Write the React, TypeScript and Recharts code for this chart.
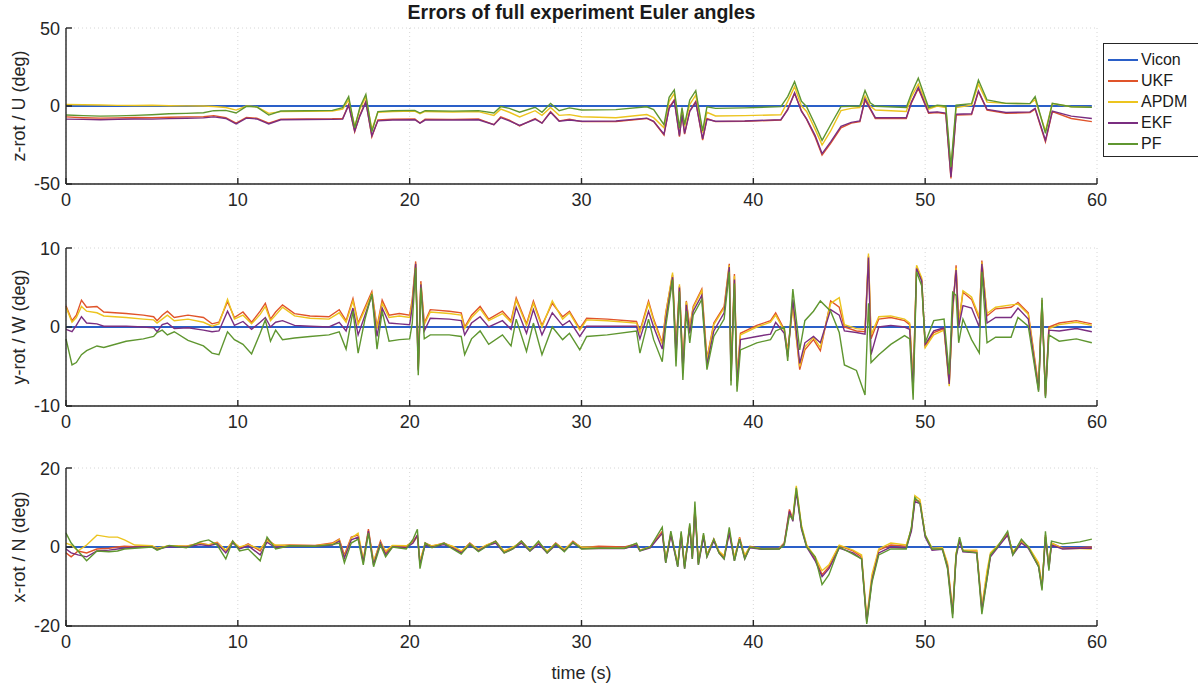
import { LineChart, Line, XAxis, YAxis, CartesianGrid } from 'recharts';

const FONT = '"Liberation Sans", Arial, Helvetica, sans-serif';
const INK = '#262626';

const TIME_TICKS = [0, 10, 20, 30, 40, 50, 60];

// Vicon is the reference, so its error is zero over the whole run
const VICON = [{ t: 0, v: 0 }, { t: 59.7, v: 0 }];

const SERIES = [
  { key: 'ukf', name: 'UKF', color: '#e0542a' },
  { key: 'apdm', name: 'APDM', color: '#ecc41e' },
  { key: 'ekf', name: 'EKF', color: '#7a2e80' },
  { key: 'pf', name: 'PF', color: '#5f9630' },
];

// ---- z-rot / U ----
const T_Z = [0, 1, 2, 3, 4, 5, 6, 7, 8, 8.6, 9.3, 9.9, 10.5, 11.1, 11.8, 12.5, 14, 15.5, 16.1, 16.45, 16.8, 17.1, 17.45, 17.8, 18.15, 19, 20.3, 20.6, 20.9, 22.5, 24, 24.9, 25.3, 25.8, 26.4, 27.3, 27.7, 28.2, 28.7, 29.3, 30, 32, 33.8, 34.2, 34.8, 35.1, 35.4, 35.7, 35.85, 36, 36.3, 36.65, 37.05, 37.3, 37.8, 39.5, 41.6, 42, 42.4, 42.8, 43.1, 43.6, 44, 44.5, 45.1, 45.7, 46.2, 46.5, 46.8, 47.1, 48.9, 49.2, 49.6, 50.2, 50.7, 51.2, 51.5, 51.8, 52.7, 53.1, 53.6, 54.7, 56.1, 56.4, 57, 57.4, 58.5, 59.7];
const UKF_Z = [-7, -7.5, -7.8, -7.6, -7.4, -7.5, -7.2, -7, -6.9, -6.2, -7.5, -11, -7.3, -7.8, -11, -8.4, -8.3, -8.2, -8, 1, -16.5, -6, 3, -19.7, -9, -8.5, -8.3, -11, -8.5, -8.6, -8.3, -12, -7, -9, -12.8, -8, -11, -3.6, -9.5, -8.5, -10, -10, -8, -10, -18.6, -1, 4, -19.7, -5, -18, -3, 3, -21.8, -8, -10, -9.8, -9, -2, 8, -3, -8.6, -20, -31.5, -24, -14, -11, -10, 3.8, -2, -8, -8, 2, 11.3, -4.7, -4.2, -5, -46.5, -5.8, -5.5, 9.2, -2.6, -4.7, -4.2, -2, -22.9, -3.6, -8, -10];
const APDM_Z = [1, 0.8, 0.6, 0.4, 0.3, 0.5, 0.2, 0.1, 0, -0.3, -1, -2.6, 0, -0.5, -4.7, -3.6, -3.4, -3.2, -2, 4, -13, -2, 6, -15, -4, -3.5, -3.3, -5, -3.5, -3.8, -3.6, -6, -2, -4, -7, -3, -6, -1, -6, -5.5, -6.9, -7.5, -5.5, -7.5, -14, 3, 8, -15, -2, -13, 1, 7, -17, -4, -6.4, -6.2, -5.6, 3, 12.4, 0, -3.5, -15, -25, -16, -3, -1.5, -1, 6.5, 0, -2.6, -3.5, 6, 14, -2, 0, -1, -41, -1, 0.5, 14, 2.5, 1.7, 1.5, 4, -16, 1.5, -0.5, -0.9];
const EKF_Z = [-8.4, -8.6, -8.8, -8.5, -8.3, -8.4, -8.1, -7.9, -7.6, -7, -8, -11.5, -7.8, -8.3, -11.5, -8.8, -8.7, -8.6, -8.4, 0.5, -16, -6.5, 2.5, -19, -9.5, -9, -8.8, -11, -9, -9, -8.8, -12, -7.5, -9.5, -12.5, -8.5, -11, -4, -9.8, -9, -9.8, -9.6, -7.8, -9.8, -18, -1.5, 3.5, -19, -5.5, -17.5, -3.5, 2.5, -21, -8.5, -9.8, -9.6, -8.8, -2.5, 8.5, -3.5, -8.3, -19, -30.5, -23, -13, -10.5, -9.5, 4.5, -1.5, -7.5, -7.5, 2.5, 11.8, -4.2, -3.8, -4.5, -45.5, -5.3, -5, 9.7, -2.2, -4.2, -3.8, -1.5, -22, -3.2, -6.5, -8];
const PF_Z = [-5.8, -6.2, -6.5, -6.3, -6, -5.6, -5, -4.7, -4.3, -3, -2.8, -4.5, -0.2, -0.6, -5.8, -3.2, -3, -2.8, -1, 6, -14, -1, 7.5, -16.5, -3.6, -3, -2.8, -4.5, -3, -3.3, -3, -4.5, -0.4, -1.5, -4, -0.8, -4, 1.7, -3, -1.2, -2.6, -2.3, -0.5, -2.3, -12, 5.6, 10.3, -14, -1, -12, 3.9, 9.9, -16, -0.5, -1.5, -1.2, -0.4, 6, 15.6, 3, -0.4, -12, -22, -12, -0.4, -0.2, 0, 9.9, 2, -0.2, -1, 8, 17.8, -1, 0.5, 0, -39, 0.5, 1.5, 16.7, 3.9, 1.7, 1.5, 6, -17.5, 1.7, -0.5, -0.9];

// ---- y-rot / W ----
const T_W = [0, 0.35, 0.6, 0.9, 1.2, 1.8, 2.2, 3.5, 4.5, 5.1, 5.3, 5.6, 5.9, 6.3, 7.1, 8.0, 8.5, 8.9, 9.4, 9.8, 10.3, 10.8, 11.3, 11.6, 11.9, 12.2, 12.6, 13.3, 14.2, 15.3, 15.9, 16.3, 16.7, 17.0, 17.4, 17.8, 18.1, 18.4, 18.8, 19.4, 20.0, 20.15, 20.35, 20.5, 20.65, 20.85, 21.2, 22.3, 23.0, 23.2, 23.6, 24.1, 24.6, 25.4, 25.9, 26.2, 26.8, 27.2, 27.7, 28.3, 28.9, 29.3, 29.9, 30.3, 31.5, 33.2, 33.4, 33.9, 34.2, 34.7, 34.9, 35.3, 35.5, 35.7, 35.9, 36.1, 36.3, 36.5, 37.0, 37.3, 37.7, 38.3, 38.6, 38.7, 38.9, 39.05, 39.25, 40.2, 41.0, 41.3, 41.8, 42.0, 42.3, 42.7, 43.0, 43.5, 43.9, 44.5, 45.0, 45.3, 46.0, 46.5, 46.7, 46.85, 47.3, 48.0, 48.8, 49.1, 49.3, 49.5, 49.8, 50.0, 50.5, 51.1, 51.4, 51.6, 51.8, 51.95, 52.2, 52.7, 53.15, 53.3, 53.6, 54.1, 55.0, 55.4, 56.0, 56.6, 56.8, 57.0, 57.2, 57.8, 58.8, 59.7];
const UKF_W = [2.7, 0.8, 1.5, 3.4, 2.5, 2.6, 1.9, 1.7, 1.5, 1.3, 0.8, 1.5, 2.0, 1.2, 1.5, 1.2, 0.4, 0.6, 3.2, 1.2, 1.9, 0.6, 2.0, 3.0, 1.0, 1.9, 2.8, 1.7, 1.4, 1.3, 2.2, 0.8, 3.6, 0.5, 2.5, 4.5, 0.0, 3.4, 1.5, 1.7, 1.5, 3.5, 8.3, -5.0, 5.8, 0.5, 2.2, 2.0, 1.8, 0.0, 1.5, 2.6, 1.0, 2.0, 0.8, 3.7, 0.4, 3.3, 0.2, 3.0, 1.3, 2.0, -0.2, 1.1, 1.0, 0.7, -0.5, 3.3, 1.0, -2.0, 1.8, 6.6, -3.0, 5.2, -5.0, 3.3, 0.0, 2.6, 4.8, -4.0, 0.5, 2.6, 8.0, -6.0, 6.7, -6.5, -0.8, 0.2, 0.8, 1.8, -0.3, -3.0, 2.8, -5.4, -2.9, -1.6, -3.0, 3.3, 2.5, 0.0, -0.5, -0.6, 9.0, -1.5, 1.0, 1.2, 0.8, 0.3, -7.0, 7.6, 6.0, -2.4, -0.7, -0.2, -7.0, 2.0, 7.8, 0.5, 4.4, 3.5, 1.0, 8.4, 1.4, 2.3, 2.5, 3.1, 1.8, -7.5, 3.4, -8.5, 0.0, 0.5, 0.8, 0.4];
const APDM_W = [2.5, 0.6, 1.2, 2.6, 2.0, 1.8, 1.4, 1.2, 1.0, 0.9, 0.5, 1.0, 1.5, 0.8, 1.0, 0.6, 0.1, 0.4, 3.5, 1.0, 1.5, 0.4, 1.6, 2.6, 0.8, 1.5, 2.5, 1.4, 1.1, 1.0, 1.8, 0.6, 3.3, 0.3, 2.2, 4.2, -0.2, 3.0, 1.2, 1.4, 1.2, 3.2, 8.0, -5.3, 5.5, 0.3, 1.9, 1.7, 1.5, -0.2, 1.2, 2.3, 0.8, 1.7, 0.6, 3.4, 0.2, 3.0, 0.0, 3.3, 1.0, 1.8, -0.4, 0.9, 0.8, 0.5, -0.7, 3.0, 0.8, -2.2, 1.6, 6.9, -3.2, 5.4, -5.2, 3.2, -0.2, 2.4, 4.6, -4.2, 0.3, 2.4, 7.8, -6.2, 6.5, -6.8, -1.0, 0.0, 0.6, 1.5, -0.5, -3.2, 2.6, -5.0, -2.5, -1.3, -2.6, 3.0, 3.7, 0.3, -0.2, -0.3, 9.3, -1.0, 1.3, 1.4, 1.0, 0.5, -7.2, 7.8, 6.2, -2.6, -1.0, -0.4, -7.5, 1.8, 7.5, 0.3, 4.6, 3.8, 1.3, 8.2, 1.7, 2.5, 2.8, 2.9, 1.6, -7.7, 3.2, -8.7, -0.2, 0.3, 0.6, 0.2];
const EKF_W = [-0.3, -0.6, 0.2, 1.3, 0.5, 0.4, 0.1, 0.1, 0.0, -0.1, -0.6, 0.3, 0.5, -0.2, -0.1, -0.4, -0.6, -0.5, 2.0, 0.2, 0.7, -0.3, 0.6, 1.2, 0.0, 0.6, 0.8, 0.2, 0.1, 0.0, 0.6, -0.5, 2.4, -1.0, 1.5, 4.0, -1.2, 2.4, 0.5, 0.4, 0.3, 2.5, 8.0, -5.5, 5.4, -0.5, 1.1, 1.0, 0.8, -1.0, 0.5, 1.3, 0.0, 0.8, -0.3, 2.5, -0.8, 2.2, -1.0, 1.8, 0.2, 0.8, -1.2, 0.1, 0.1, 0.1, -1.5, 2.0, 0.0, -2.8, 0.8, 6.3, -3.8, 5.0, -5.8, 2.8, -0.8, 2.0, 4.0, -4.8, -0.5, 1.8, 7.6, -6.8, 6.0, -7.5, -1.6, -1.2, -0.9, 0.6, -0.8, -3.8, 3.5, -4.6, -2.0, -1.2, -2.0, 2.2, 1.5, -0.5, -0.7, -0.9, 8.8, -3.5, 0.0, 0.2, 0.0, -0.3, -8.0, 7.4, 5.8, -2.2, -0.5, -0.1, -7.2, 2.5, 7.2, 0.0, 2.7, 2.4, 0.0, 8.0, 0.5, 1.2, 1.2, 2.4, 1.0, -8.0, 3.0, -8.8, -0.4, -0.5, -0.2, -0.6];
const PF_W = [-1.5, -4.8, -4.5, -3.5, -3.0, -2.4, -2.6, -1.8, -1.5, -1.2, -0.7, -0.4, -1.0, -0.6, -1.7, -2.4, -3.3, -3.5, -0.6, -1.6, -2.2, -3.4, -0.8, 0.9, -1.8, -0.4, -1.6, -1.4, -1.2, -1.0, -0.6, -2.8, 2.0, -3.3, 1.0, 4.2, -2.8, 2.0, -1.8, -1.6, -1.5, 0.5, 7.5, -6.1, 5.0, -1.5, -1.0, -1.0, -1.2, -3.5, -1.5, -0.5, -2.2, -1.0, -2.4, 1.0, -3.1, 0.5, -3.5, 0.0, -1.6, -0.8, -2.9, -1.2, -1.0, -0.5, -3.3, 1.0, -1.6, -4.4, 0.0, 6.0, -5.0, 4.5, -6.7, 2.0, -2.0, 1.5, 3.5, -5.4, -1.2, 1.0, 7.0, -7.4, 5.5, -8.2, -2.9, -2.0, -1.6, -0.5, 0.0, -4.3, 4.8, -2.9, 0.8, 2.0, 3.3, 2.0, -0.7, -4.8, -5.5, -8.6, 3.0, -4.5, -3.5, -2.2, -1.1, -1.5, -9.2, 7.0, 5.2, -2.0, 0.8, 1.0, -6.0, 4.4, 4.0, -2.0, 1.0, -1.6, -3.3, 7.0, -2.0, -1.3, -1.3, 1.2, 0.1, -8.2, 3.7, -9.0, -1.0, -1.8, -1.5, -2.0];

// ---- x-rot / N ----
const T_N = [0, 0.3, 0.7, 1.2, 1.8, 2.5, 3.0, 3.4, 4.0, 5.0, 5.3, 6.0, 7.0, 7.8, 8.3, 8.8, 9.3, 9.7, 10.1, 10.6, 11.3, 11.7, 12.2, 13.0, 14.5, 15.5, 15.9, 16.2, 16.6, 17.0, 17.3, 17.6, 17.9, 18.3, 18.6, 19.0, 19.8, 20.2, 20.45, 20.6, 20.9, 21.3, 22.0, 22.5, 23.0, 23.5, 24.0, 24.5, 25.0, 25.5, 26.0, 26.5, 27.0, 27.5, 28.0, 28.5, 29.0, 29.5, 30.0, 31.0, 32.5, 33.2, 33.4, 34.0, 34.7, 34.9, 35.2, 35.6, 35.8, 36.0, 36.3, 36.45, 36.6, 36.8, 37.1, 37.3, 37.7, 38.0, 38.3, 38.6, 38.9, 39.2, 39.5, 39.8, 40.5, 41.5, 41.8, 42.1, 42.3, 42.5, 42.8, 43.1, 43.6, 44.0, 44.4, 45.0, 45.8, 46.3, 46.6, 46.9, 47.3, 48.0, 48.9, 49.2, 49.4, 49.7, 50.0, 50.4, 51.0, 51.3, 51.6, 51.8, 52.0, 52.2, 53.0, 53.3, 53.6, 53.8, 54.2, 54.8, 55.1, 55.6, 56.0, 56.6, 56.8, 57.0, 57.2, 57.35, 58.0, 59.0, 59.7];
const UKF_N = [-1.5, -2.5, -1.0, -1.5, -0.5, -0.3, 0.0, 0.2, 0.1, 0.2, -0.5, 0.3, 0.2, 1.0, 0.5, 1.2, -1.0, 1.5, -0.3, 0.8, -1.0, 2.0, 0.3, 0.5, 0.4, 1.0, 2.0, -2.0, 2.5, 3.0, -3.5, 4.5, -4.0, 1.5, -1.5, 0.3, 0.2, 1.5, 3.0, -4.0, 1.0, 0.2, 1.0, 0.0, -1.2, 1.0, -0.8, 0.5, 1.5, -1.2, -0.3, 1.5, -0.8, 1.2, -1.2, 1.0, -0.8, 1.5, -0.2, 0.2, 0.0, 0.8, -0.8, 0.0, 4.0, -3.5, 3.5, -4.5, 3.5, -5.0, 5.5, -2.5, 10.0, -4.0, 3.0, -2.0, 2.0, -1.2, -2.5, 4.0, -3.0, 2.5, -2.5, 0.2, -0.4, -0.3, 1.0, 9.5, 7.0, 14.5, 5.0, 0.5, -3.0, -7.0, -5.0, 0.3, -1.0, -2.5, -18.5, -8.0, -0.8, 0.5, 0.2, 4.5, 12.0, 11.5, 3.0, -0.5, -0.3, -4.5, -16.5, -2.0, 2.0, -1.0, -1.0, -15.5, -7.0, -2.0, 0.0, 3.5, -1.5, 1.5, 0.0, -4.5, -10.0, 3.0, -5.0, 1.0, -0.3, -0.2, 0.0];
const APDM_N = [1.0, 0.5, -1.0, 0.5, 3.0, 2.5, 2.5, 1.8, 0.5, 0.3, -0.3, 0.3, 0.2, 0.8, 0.6, 1.0, -0.8, 1.3, 0.0, 0.6, -0.5, 1.5, 0.5, 0.4, 0.3, 0.8, 1.8, -2.5, 2.2, 3.5, -3.0, 3.8, -3.5, 1.2, -1.0, 0.4, 0.3, 1.2, 2.5, -3.5, 0.8, 0.3, 0.8, 0.2, -1.0, 0.8, -0.6, 0.6, 1.2, -1.0, 0.0, 1.2, -0.6, 1.0, -1.0, 0.8, -0.6, 1.2, 0.0, -0.2, -0.3, 0.6, -0.8, 0.0, 3.5, -3.0, 3.0, -4.0, 3.0, -4.5, 5.0, -2.0, 9.5, -3.5, 2.8, -2.0, 1.8, -1.0, -2.2, 3.5, -2.5, 2.0, -2.0, 0.0, -0.5, -0.4, 1.0, 8.5, 7.5, 15.5, 5.5, 0.5, -2.5, -6.0, -4.5, 0.5, -0.8, -2.0, -18.0, -7.0, -0.5, 1.0, 0.5, 4.5, 13.0, 12.0, 3.0, -0.3, -0.2, -4.0, -16.0, -1.5, 1.5, -0.8, -0.8, -15.0, -6.0, -1.5, 0.3, 3.0, -1.2, 1.2, 0.2, -4.0, -9.5, 2.5, -4.5, 1.0, -0.4, -0.4, -0.5];
const EKF_N = [-0.5, -1.5, -2.0, -2.5, -1.0, -0.8, -0.5, -0.3, 0.0, 0.0, -0.6, 0.1, 0.0, 0.6, 0.3, 0.8, -1.5, 1.0, -0.5, 0.3, -2.0, 1.2, -0.2, 0.2, 0.2, 0.5, 1.5, -2.8, 1.8, 2.5, -3.8, 4.0, -4.5, 1.0, -2.0, 0.0, -0.2, 1.0, 3.0, -4.5, 0.5, 0.0, 0.6, -0.3, -1.5, 0.5, -1.0, 0.3, 1.0, -1.5, -0.5, 1.0, -1.0, 0.8, -1.5, 0.5, -1.0, 1.0, -0.4, -0.3, -0.4, 0.5, -1.0, -0.2, 3.5, -4.0, 3.0, -5.0, 3.0, -5.5, 5.0, -3.0, 9.5, -4.5, 2.5, -2.5, 1.5, -1.5, -3.0, 3.5, -3.5, 2.0, -3.0, -0.2, -0.6, -0.5, 0.8, 9.0, 6.5, 14.0, 4.5, 0.0, -3.5, -7.5, -5.5, -0.3, -1.5, -3.0, -19.0, -8.5, -1.5, 0.0, -0.3, 4.0, 11.5, 11.0, 2.5, -0.8, -0.6, -5.0, -17.0, -2.5, 1.5, -1.2, -1.5, -16.0, -8.0, -2.5, -0.3, 3.0, -2.0, 1.0, -0.3, -5.0, -10.5, 2.5, -5.5, 0.5, -0.5, -0.3, -0.3];
const PF_N = [3.5, 1.0, -1.0, -3.5, -1.0, -1.2, -1.0, -0.5, -0.3, 0.0, -0.8, 0.4, -0.2, 1.3, 1.8, 0.5, -3.0, 1.5, -1.0, -0.5, -3.5, 2.5, -0.5, 0.3, 0.2, 0.6, 1.0, -4.0, 1.0, 2.0, -4.5, 3.5, -5.0, 0.5, -2.5, 0.0, -0.5, 2.0, 4.5, -5.5, 1.0, -0.2, 1.0, -0.5, -1.8, 0.8, -1.2, 0.2, 1.5, -1.5, -0.5, 1.5, -1.0, 1.5, -1.5, 0.8, -1.2, 1.2, -0.5, -0.3, -0.3, 1.0, -1.0, 0.0, 5.0, -4.0, 4.0, -5.0, 4.0, -5.5, 6.0, -3.0, 11.5, -4.5, 3.5, -2.5, 2.0, -1.5, -3.0, 5.0, -3.5, 2.0, -3.0, 0.0, -0.5, -0.5, 0.5, 8.0, 7.0, 15.0, 5.0, 0.0, -2.5, -9.5, -7.0, 0.0, -1.8, -3.0, -19.5, -9.0, -2.0, -0.5, -0.5, 5.0, 12.5, 11.0, 3.0, -0.5, -0.5, -5.5, -18.0, -2.0, 2.5, -1.0, -1.5, -17.0, -8.0, -2.0, 0.0, 4.0, -2.0, 2.0, 0.0, -5.0, -11.0, 4.0, -6.0, 1.5, 0.8, 1.3, 2.0];

const YLabel = (props: any) => {
  const vb = props.viewBox || {};
  const cx = 19;
  const cy = (vb.y ?? 10) + (vb.height ?? 0) / 2;
  return (
    <text
      x={cx}
      y={cy}
      transform={`rotate(-90 ${cx} ${cy})`}
      textAnchor="middle"
      dominantBaseline="central"
      fill={INK}
      fontSize={18}
      fontFamily={FONT}
    >
      {props.text}
    </text>
  );
};

type PanelProps = {
  top: number;
  plotHeight: number;
  t: number[];
  ukf: number[];
  apdm: number[];
  ekf: number[];
  pf: number[];
  domain: [number, number];
  ticks: number[];
  label: string;
  xLabel?: string;
};

const Panel = ({ top, plotHeight, t, ukf, apdm, ekf, pf, domain, ticks, label, xLabel }: PanelProps) => {
  const rows = t.map((time, i) => ({ t: time, ukf: ukf[i], apdm: apdm[i], ekf: ekf[i], pf: pf[i] }));
  const axisH = xLabel ? 62 : 40;
  return (
    <div style={{ position: 'absolute', left: 0, top: top - 10 }}>
      <LineChart width={1198} height={plotHeight + 10 + axisH} data={rows} margin={{ top: 10, right: 101, bottom: 0, left: 0 }}>
        <CartesianGrid stroke="#d6d6d6" strokeDasharray="1 3" />
        <XAxis
          dataKey="t"
          type="number"
          domain={[0, 60]}
          ticks={TIME_TICKS}
          height={axisH}
          tickSize={-6}
          tickMargin={15}
          stroke={INK}
          strokeWidth={1.4}
          tick={{ fill: INK, fontSize: 18, fontFamily: FONT }}
          label={xLabel ? { value: xLabel, position: 'insideBottom', offset: 9, fill: INK, fontSize: 18, fontFamily: FONT } : undefined}
        />
        <YAxis
          type="number"
          domain={domain}
          ticks={ticks}
          width={66}
          tickSize={-6}
          tickMargin={12}
          stroke={INK}
          strokeWidth={1.4}
          tick={{ fill: INK, fontSize: 18, fontFamily: FONT }}
          label={<YLabel text={label} />}
        />
        <Line data={VICON} dataKey="v" stroke="#2a5fc8" strokeWidth={2} dot={false} isAnimationActive={false} />
        {SERIES.map((s) => (
          <Line key={s.key} dataKey={s.key} stroke={s.color} strokeWidth={1.4} dot={false} isAnimationActive={false} />
        ))}
      </LineChart>
    </div>
  );
};

const LegendBox = () => (
  <div
    style={{
      position: 'absolute',
      left: 1103,
      top: 43,
      width: 110,
      height: 114,
      border: `1px solid ${INK}`,
      background: '#fff',
      boxSizing: 'border-box',
      paddingTop: 5,
      fontFamily: FONT,
      fontSize: 16,
      color: '#1a1a1a',
    }}
  >
    {[{ name: 'Vicon', color: '#2a5fc8' }, ...SERIES].map((s) => (
      <div key={s.name} style={{ display: 'flex', alignItems: 'center', height: 21 }}>
        <div style={{ width: 30, height: 2, background: s.color, marginLeft: 4, marginRight: 3 }} />
        <span>{s.name}</span>
      </div>
    ))}
  </div>
);

export default function App() {
  return (
    <div style={{ position: 'absolute', left: 0, top: 0, width: 1198, height: 687, overflow: 'hidden', background: '#fff' }}>
      <div
        style={{
          position: 'absolute',
          left: 66,
          width: 1031,
          top: 0,
          textAlign: 'center',
          fontFamily: FONT,
          fontWeight: 'bold',
          fontSize: 19.5,
          lineHeight: '24px',
          color: '#1a1a1a',
        }}
      >
        Errors of full experiment Euler angles
      </div>
      <Panel top={28} plotHeight={156} t={T_Z} ukf={UKF_Z} apdm={APDM_Z} ekf={EKF_Z} pf={PF_Z} domain={[-50, 50]} ticks={[-50, 0, 50]} label="z-rot / U (deg)" />
      <Panel top={248} plotHeight={158} t={T_W} ukf={UKF_W} apdm={APDM_W} ekf={EKF_W} pf={PF_W} domain={[-10, 10]} ticks={[-10, 0, 10]} label="y-rot / W (deg)" />
      <Panel top={468} plotHeight={158} t={T_N} ukf={UKF_N} apdm={APDM_N} ekf={EKF_N} pf={PF_N} domain={[-20, 20]} ticks={[-20, 0, 20]} label="x-rot / N (deg)" xLabel="time (s)" />
      <LegendBox />
    </div>
  );
}
